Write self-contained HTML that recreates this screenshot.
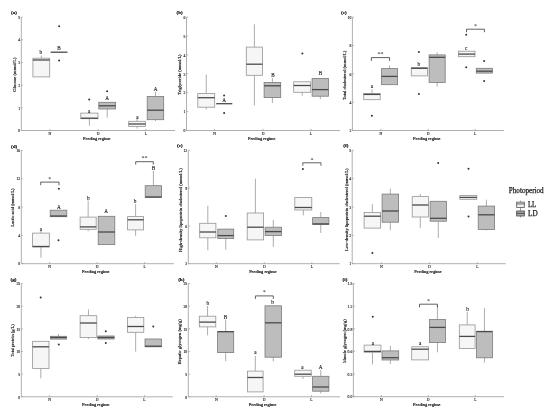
<!DOCTYPE html>
<html><head><meta charset="utf-8"><style>
html,body{margin:0;padding:0;background:#fff;}
body{width:550px;height:413px;overflow:hidden;}
svg{display:block;font-family:"Liberation Serif",serif;filter:grayscale(1);}
.tk{font-size:3.8px;fill:#222;stroke:#222;stroke-width:0.12px;}
.xl{font-size:4.6px;fill:#111;stroke:#111;stroke-width:0.18px;}
.yt{font-size:4.5px;fill:#222;stroke:#222;stroke-width:0.15px;}
.lt{font-size:5.2px;fill:#222;stroke:#222;stroke-width:0.12px;}
.pl{font-size:5px;font-weight:bold;fill:#111;stroke:#111;stroke-width:0.2px;}
.st{font-size:6px;fill:#222;}
</style></head><body>
<svg width="550" height="413" viewBox="0 0 550 413">
<rect width="550" height="413" fill="#fff"/>
<path d="M21.3 17.1V130.5H175" fill="none" stroke="#b0b0b0" stroke-width="1.0"/>
<path d="M21.3 17.1h1.6" stroke="#888" stroke-width="0.6"/>
<text class="tk" x="20.2" y="18.8" text-anchor="end">5</text>
<path d="M21.3 39.78h1.6" stroke="#888" stroke-width="0.6"/>
<text class="tk" x="20.2" y="41.48" text-anchor="end">4</text>
<path d="M21.3 62.46h1.6" stroke="#888" stroke-width="0.6"/>
<text class="tk" x="20.2" y="64.16" text-anchor="end">3</text>
<path d="M21.3 85.14h1.6" stroke="#888" stroke-width="0.6"/>
<text class="tk" x="20.2" y="86.84" text-anchor="end">2</text>
<path d="M21.3 107.82h1.6" stroke="#888" stroke-width="0.6"/>
<text class="tk" x="20.2" y="109.52" text-anchor="end">1</text>
<path d="M21.3 130.5h1.6" stroke="#888" stroke-width="0.6"/>
<text class="tk" x="20.2" y="132.2" text-anchor="end">0</text>
<path d="M49.9 130.5v-1.6" stroke="#888" stroke-width="0.6"/>
<text class="tk" x="49.9" y="134.9" text-anchor="middle">N</text>
<path d="M98.2 130.5v-1.6" stroke="#888" stroke-width="0.6"/>
<text class="tk" x="98.2" y="134.9" text-anchor="middle">D</text>
<path d="M145.9 130.5v-1.6" stroke="#888" stroke-width="0.6"/>
<text class="tk" x="145.9" y="134.9" text-anchor="middle">L</text>
<text class="xl" x="83.05" y="139.8" textLength="27.5" lengthAdjust="spacingAndGlyphs">Feeding regime</text>
<text class="yt" transform="translate(16.3 91.7) rotate(-90)" textLength="34.2" lengthAdjust="spacingAndGlyphs">Glucose (mmol/L)</text>
<text class="pl" x="11.1" y="14">(a)</text>
<path d="M41.3 55.6V58.2" stroke="#8a8a8a" stroke-width="0.7"/>
<rect x="32.9" y="58.2" width="16.8" height="18.7" fill="#f6f6f6" stroke="#959595" stroke-width="0.8"/>
<path d="M32.9 60H49.7" stroke="#4a4a4a" stroke-width="1.3"/>
<path d="M50.6 52.2H67.5" stroke="#4a4a4a" stroke-width="1.3"/>
<path d="M89.4 118.7V125.8" stroke="#8a8a8a" stroke-width="0.7"/>
<rect x="80.8" y="113.1" width="17.2" height="5.6" fill="#f6f6f6" stroke="#959595" stroke-width="0.8"/>
<path d="M80.8 118.2H98" stroke="#4a4a4a" stroke-width="1.3"/>
<path d="M107.2 109V117.7" stroke="#8a8a8a" stroke-width="0.7"/>
<rect x="98.8" y="102.3" width="16.8" height="6.7" fill="#bdbdbd" stroke="#7a7a7a" stroke-width="0.8"/>
<path d="M98.8 105.8H115.6" stroke="#4a4a4a" stroke-width="1.3"/>
<path d="M137.1 119V121.3" stroke="#8a8a8a" stroke-width="0.7"/>
<path d="M137.1 126.4V128.5" stroke="#8a8a8a" stroke-width="0.7"/>
<rect x="128.7" y="121.3" width="16.8" height="5.1" fill="#f6f6f6" stroke="#959595" stroke-width="0.8"/>
<path d="M128.7 124H145.5" stroke="#4a4a4a" stroke-width="1.3"/>
<path d="M155.45 91.7V96.4" stroke="#8a8a8a" stroke-width="0.7"/>
<path d="M155.45 119.7V121" stroke="#8a8a8a" stroke-width="0.7"/>
<rect x="147.2" y="96.4" width="16.5" height="23.3" fill="#bdbdbd" stroke="#7a7a7a" stroke-width="0.8"/>
<path d="M147.2 110.2H163.7" stroke="#4a4a4a" stroke-width="1.3"/>
<circle cx="59.1" cy="26.3" r="1.0" fill="#333"/>
<circle cx="59.1" cy="60.6" r="1.0" fill="#333"/>
<circle cx="89.2" cy="99.5" r="1.0" fill="#333"/>
<circle cx="107.1" cy="91.3" r="1.0" fill="#333"/>
<text class="lt" x="40.7" y="54.3" text-anchor="middle">b</text>
<text class="lt" x="59.1" y="49.9" text-anchor="middle">B</text>
<text class="lt" x="89.2" y="112.8" text-anchor="middle">a</text>
<text class="lt" x="107.1" y="99.8" text-anchor="middle">A</text>
<text class="lt" x="137.3" y="118.5" text-anchor="middle">a</text>
<text class="lt" x="155.5" y="91.4" text-anchor="middle">A</text>
<path d="M186.5 17.1V130.5H340" fill="none" stroke="#b0b0b0" stroke-width="1.0"/>
<path d="M186.5 17.1h1.6" stroke="#888" stroke-width="0.6"/>
<text class="tk" x="185.4" y="18.8" text-anchor="end">6</text>
<path d="M186.5 36h1.6" stroke="#888" stroke-width="0.6"/>
<text class="tk" x="185.4" y="37.7" text-anchor="end">5</text>
<path d="M186.5 54.9h1.6" stroke="#888" stroke-width="0.6"/>
<text class="tk" x="185.4" y="56.6" text-anchor="end">4</text>
<path d="M186.5 73.8h1.6" stroke="#888" stroke-width="0.6"/>
<text class="tk" x="185.4" y="75.5" text-anchor="end">3</text>
<path d="M186.5 92.7h1.6" stroke="#888" stroke-width="0.6"/>
<text class="tk" x="185.4" y="94.4" text-anchor="end">2</text>
<path d="M186.5 111.6h1.6" stroke="#888" stroke-width="0.6"/>
<text class="tk" x="185.4" y="113.3" text-anchor="end">1</text>
<path d="M186.5 130.5h1.6" stroke="#888" stroke-width="0.6"/>
<text class="tk" x="185.4" y="132.2" text-anchor="end">0</text>
<path d="M214.6 130.5v-1.6" stroke="#888" stroke-width="0.6"/>
<text class="tk" x="214.6" y="134.9" text-anchor="middle">N</text>
<path d="M263.1 130.5v-1.6" stroke="#888" stroke-width="0.6"/>
<text class="tk" x="263.1" y="134.9" text-anchor="middle">D</text>
<path d="M311 130.5v-1.6" stroke="#888" stroke-width="0.6"/>
<text class="tk" x="311" y="134.9" text-anchor="middle">L</text>
<text class="xl" x="247.95" y="139.8" textLength="27.5" lengthAdjust="spacingAndGlyphs">Feeding regime</text>
<text class="yt" transform="translate(181.1 94.8) rotate(-90)" textLength="40.4" lengthAdjust="spacingAndGlyphs">Triglyceride (mmol/L)</text>
<text class="pl" x="176.5" y="14.1">(b)</text>
<path d="M206.25 74.5V93.5" stroke="#8a8a8a" stroke-width="0.7"/>
<path d="M206.25 107.2V109.5" stroke="#8a8a8a" stroke-width="0.7"/>
<rect x="197.8" y="93.5" width="16.9" height="13.7" fill="#f6f6f6" stroke="#959595" stroke-width="0.8"/>
<path d="M197.8 97.7H214.7" stroke="#4a4a4a" stroke-width="1.3"/>
<path d="M216.2 103.7H232.3" stroke="#4a4a4a" stroke-width="1.3"/>
<path d="M254.4 24.3V47.1" stroke="#8a8a8a" stroke-width="0.7"/>
<path d="M254.4 75.3V105.4" stroke="#8a8a8a" stroke-width="0.7"/>
<rect x="246.3" y="47.1" width="16.2" height="28.2" fill="#f6f6f6" stroke="#959595" stroke-width="0.8"/>
<path d="M246.3 64.2H262.5" stroke="#4a4a4a" stroke-width="1.3"/>
<path d="M272.4 78.1V82.4" stroke="#8a8a8a" stroke-width="0.7"/>
<path d="M272.4 97.6V103" stroke="#8a8a8a" stroke-width="0.7"/>
<rect x="264.1" y="82.4" width="16.6" height="15.2" fill="#bdbdbd" stroke="#7a7a7a" stroke-width="0.8"/>
<path d="M264.1 85.8H280.7" stroke="#4a4a4a" stroke-width="1.3"/>
<path d="M302.2 92.3V95.8" stroke="#8a8a8a" stroke-width="0.7"/>
<rect x="293.7" y="81.8" width="17" height="10.5" fill="#f6f6f6" stroke="#959595" stroke-width="0.8"/>
<path d="M293.7 85.5H310.7" stroke="#4a4a4a" stroke-width="1.3"/>
<path d="M320.3 96.2V99.2" stroke="#8a8a8a" stroke-width="0.7"/>
<rect x="312.1" y="78.4" width="16.4" height="17.8" fill="#bdbdbd" stroke="#7a7a7a" stroke-width="0.8"/>
<path d="M312.1 89.6H328.5" stroke="#4a4a4a" stroke-width="1.3"/>
<circle cx="224.1" cy="95.4" r="1.0" fill="#333"/>
<circle cx="224.1" cy="113.1" r="1.0" fill="#333"/>
<circle cx="302.4" cy="53.6" r="1.0" fill="#333"/>
<text class="lt" x="224.1" y="102.2" text-anchor="middle">A</text>
<text class="lt" x="273" y="76.8" text-anchor="middle">B</text>
<text class="lt" x="320.4" y="75" text-anchor="middle">B</text>
<path d="M352.4 17.2V130.5H503.9" fill="none" stroke="#b0b0b0" stroke-width="1.0"/>
<path d="M352.4 17.2h1.6" stroke="#888" stroke-width="0.6"/>
<text class="tk" x="351.3" y="18.9" text-anchor="end">10</text>
<path d="M352.4 45.52h1.6" stroke="#888" stroke-width="0.6"/>
<text class="tk" x="351.3" y="47.23" text-anchor="end">8</text>
<path d="M352.4 73.85h1.6" stroke="#888" stroke-width="0.6"/>
<text class="tk" x="351.3" y="75.55" text-anchor="end">6</text>
<path d="M352.4 102.17h1.6" stroke="#888" stroke-width="0.6"/>
<text class="tk" x="351.3" y="103.88" text-anchor="end">4</text>
<path d="M352.4 130.5h1.6" stroke="#888" stroke-width="0.6"/>
<text class="tk" x="351.3" y="132.2" text-anchor="end">2</text>
<path d="M380.9 130.5v-1.6" stroke="#888" stroke-width="0.6"/>
<text class="tk" x="380.9" y="134.9" text-anchor="middle">N</text>
<path d="M428.2 130.5v-1.6" stroke="#888" stroke-width="0.6"/>
<text class="tk" x="428.2" y="134.9" text-anchor="middle">D</text>
<path d="M475.2 130.5v-1.6" stroke="#888" stroke-width="0.6"/>
<text class="tk" x="475.2" y="134.9" text-anchor="middle">L</text>
<text class="xl" x="413.05" y="139.8" textLength="27.5" lengthAdjust="spacingAndGlyphs">Feeding regime</text>
<text class="yt" transform="translate(345.8 100) rotate(-90)" textLength="49.3" lengthAdjust="spacingAndGlyphs">Total cholesterol (mmol/L)</text>
<text class="pl" x="341" y="14.3">(c)</text>
<path d="M371.95 89.2V93.4" stroke="#8a8a8a" stroke-width="0.7"/>
<rect x="363.7" y="93.4" width="16.5" height="6.3" fill="#f6f6f6" stroke="#959595" stroke-width="0.8"/>
<path d="M363.7 94.4H380.2" stroke="#4a4a4a" stroke-width="1.3"/>
<path d="M389.6 65.3V68.6" stroke="#8a8a8a" stroke-width="0.7"/>
<rect x="381.6" y="68.6" width="16" height="16.1" fill="#bdbdbd" stroke="#7a7a7a" stroke-width="0.8"/>
<path d="M381.6 76.4H397.6" stroke="#4a4a4a" stroke-width="1.3"/>
<rect x="411.3" y="67.6" width="16.2" height="8.3" fill="#f6f6f6" stroke="#959595" stroke-width="0.8"/>
<path d="M411.3 68.3H427.5" stroke="#4a4a4a" stroke-width="1.3"/>
<path d="M437.15 52.2V54.9" stroke="#8a8a8a" stroke-width="0.7"/>
<path d="M437.15 82.4V86.6" stroke="#8a8a8a" stroke-width="0.7"/>
<rect x="429.1" y="54.9" width="16.1" height="27.5" fill="#bdbdbd" stroke="#7a7a7a" stroke-width="0.8"/>
<path d="M429.1 57.3H445.2" stroke="#4a4a4a" stroke-width="1.3"/>
<rect x="458.5" y="51.2" width="16.5" height="5.5" fill="#f6f6f6" stroke="#959595" stroke-width="0.8"/>
<path d="M458.5 54.1H475" stroke="#4a4a4a" stroke-width="1.3"/>
<rect x="476.3" y="68.3" width="16.1" height="4.8" fill="#bdbdbd" stroke="#7a7a7a" stroke-width="0.8"/>
<path d="M476.3 71.2H492.4" stroke="#4a4a4a" stroke-width="1.3"/>
<circle cx="371.9" cy="115.7" r="1.0" fill="#333"/>
<circle cx="418.9" cy="51.9" r="1.0" fill="#333"/>
<circle cx="418.9" cy="93.9" r="1.0" fill="#333"/>
<circle cx="466.2" cy="34.8" r="1.0" fill="#333"/>
<circle cx="466.2" cy="67.3" r="1.0" fill="#333"/>
<circle cx="484.1" cy="60.9" r="1.0" fill="#333"/>
<circle cx="484.1" cy="80.9" r="1.0" fill="#333"/>
<text class="lt" x="371.9" y="88.2" text-anchor="middle">a</text>
<text class="lt" x="418.9" y="65.8" text-anchor="middle">b</text>
<text class="lt" x="466.2" y="50" text-anchor="middle">c</text>
<path d="M371.4 60.9V57.6H389.6V60.9" fill="none" stroke="#444" stroke-width="0.85"/>
<text class="st" x="380.5" y="55.8" text-anchor="middle">**</text>
<path d="M466.5 32.2V29.2H484.4V32.2" fill="none" stroke="#444" stroke-width="0.85"/>
<text class="st" x="475.45" y="27.7" text-anchor="middle">*</text>
<path d="M21.3 150.4V263.7H173.9" fill="none" stroke="#b0b0b0" stroke-width="1.0"/>
<path d="M21.3 150.4h1.6" stroke="#888" stroke-width="0.6"/>
<text class="tk" x="20.2" y="152.1" text-anchor="end">16</text>
<path d="M21.3 178.72h1.6" stroke="#888" stroke-width="0.6"/>
<text class="tk" x="20.2" y="180.42" text-anchor="end">12</text>
<path d="M21.3 207.05h1.6" stroke="#888" stroke-width="0.6"/>
<text class="tk" x="20.2" y="208.75" text-anchor="end">8</text>
<path d="M21.3 235.38h1.6" stroke="#888" stroke-width="0.6"/>
<text class="tk" x="20.2" y="237.07" text-anchor="end">4</text>
<path d="M21.3 263.7h1.6" stroke="#888" stroke-width="0.6"/>
<text class="tk" x="20.2" y="265.4" text-anchor="end">0</text>
<path d="M49.6 263.7v-1.6" stroke="#888" stroke-width="0.6"/>
<text class="tk" x="49.6" y="268.1" text-anchor="middle">N</text>
<path d="M97.2 263.7v-1.6" stroke="#888" stroke-width="0.6"/>
<text class="tk" x="97.2" y="268.1" text-anchor="middle">D</text>
<path d="M144.6 263.7v-1.6" stroke="#888" stroke-width="0.6"/>
<text class="tk" x="144.6" y="268.1" text-anchor="middle">L</text>
<text class="xl" x="82.05" y="273" textLength="27.5" lengthAdjust="spacingAndGlyphs">Feeding regime</text>
<text class="yt" transform="translate(14.2 226.7) rotate(-90)" textLength="38.2" lengthAdjust="spacingAndGlyphs">Lactic acid (mmol/L)</text>
<text class="pl" x="11.1" y="147.7">(d)</text>
<path d="M40.95 231V233.1" stroke="#8a8a8a" stroke-width="0.7"/>
<path d="M40.95 246.9V257.8" stroke="#8a8a8a" stroke-width="0.7"/>
<rect x="32.6" y="233.1" width="16.7" height="13.8" fill="#f6f6f6" stroke="#959595" stroke-width="0.8"/>
<path d="M32.6 246.5H49.3" stroke="#4a4a4a" stroke-width="1.3"/>
<rect x="50.2" y="210.2" width="16.6" height="6.5" fill="#bdbdbd" stroke="#7a7a7a" stroke-width="0.8"/>
<path d="M50.2 216H66.8" stroke="#4a4a4a" stroke-width="1.3"/>
<path d="M88.15 200.5V217.1" stroke="#8a8a8a" stroke-width="0.7"/>
<path d="M88.15 229.3V231.2" stroke="#8a8a8a" stroke-width="0.7"/>
<rect x="80.1" y="217.1" width="16.1" height="12.2" fill="#f6f6f6" stroke="#959595" stroke-width="0.8"/>
<path d="M80.1 226.9H96.2" stroke="#4a4a4a" stroke-width="1.3"/>
<rect x="98.2" y="216.3" width="16.6" height="28.3" fill="#bdbdbd" stroke="#7a7a7a" stroke-width="0.8"/>
<path d="M98.2 232H114.8" stroke="#4a4a4a" stroke-width="1.3"/>
<path d="M135.6 204.1V216.6" stroke="#8a8a8a" stroke-width="0.7"/>
<path d="M135.6 229.9V235.8" stroke="#8a8a8a" stroke-width="0.7"/>
<rect x="127.6" y="216.6" width="16" height="13.3" fill="#f6f6f6" stroke="#959595" stroke-width="0.8"/>
<path d="M127.6 219.8H143.6" stroke="#4a4a4a" stroke-width="1.3"/>
<path d="M153.4 170.6V185.7" stroke="#8a8a8a" stroke-width="0.7"/>
<rect x="145.2" y="185.7" width="16.4" height="11.6" fill="#bdbdbd" stroke="#7a7a7a" stroke-width="0.8"/>
<path d="M145.2 197H161.6" stroke="#4a4a4a" stroke-width="1.3"/>
<circle cx="58.9" cy="188.8" r="1.0" fill="#333"/>
<circle cx="58.5" cy="240.3" r="1.0" fill="#333"/>
<text class="lt" x="41" y="230.5" text-anchor="middle">a</text>
<text class="lt" x="58.9" y="208.5" text-anchor="middle">A</text>
<text class="lt" x="88.2" y="200.2" text-anchor="middle">b</text>
<text class="lt" x="106" y="213.3" text-anchor="middle">A</text>
<text class="lt" x="135" y="203.1" text-anchor="middle">b</text>
<text class="lt" x="153.4" y="169.8" text-anchor="middle">B</text>
<path d="M40.7 185.2V182.1H59V185.2" fill="none" stroke="#444" stroke-width="0.85"/>
<text class="st" x="49.85" y="181.2" text-anchor="middle">*</text>
<path d="M135.7 164.6V161.7H153.3V164.6" fill="none" stroke="#444" stroke-width="0.85"/>
<text class="st" x="144.5" y="160.3" text-anchor="middle">**</text>
<path d="M188.3 150.3V263.7H339.7" fill="none" stroke="#b0b0b0" stroke-width="1.0"/>
<path d="M188.3 150.3h1.6" stroke="#888" stroke-width="0.6"/>
<text class="tk" x="187.2" y="152" text-anchor="end">12</text>
<path d="M188.3 188.1h1.6" stroke="#888" stroke-width="0.6"/>
<text class="tk" x="187.2" y="189.8" text-anchor="end">9</text>
<path d="M188.3 225.9h1.6" stroke="#888" stroke-width="0.6"/>
<text class="tk" x="187.2" y="227.6" text-anchor="end">6</text>
<path d="M188.3 263.7h1.6" stroke="#888" stroke-width="0.6"/>
<text class="tk" x="187.2" y="265.4" text-anchor="end">3</text>
<path d="M216.3 263.7v-1.6" stroke="#888" stroke-width="0.6"/>
<text class="tk" x="216.3" y="268.1" text-anchor="middle">N</text>
<path d="M264.3 263.7v-1.6" stroke="#888" stroke-width="0.6"/>
<text class="tk" x="264.3" y="268.1" text-anchor="middle">D</text>
<path d="M311.8 263.7v-1.6" stroke="#888" stroke-width="0.6"/>
<text class="tk" x="311.8" y="268.1" text-anchor="middle">L</text>
<text class="xl" x="249.15" y="273" textLength="27.5" lengthAdjust="spacingAndGlyphs">Feeding regime</text>
<text class="yt" transform="translate(181.7 252) rotate(-90)" textLength="83.7" lengthAdjust="spacingAndGlyphs">High-density lipoprotein cholesterol (mmol/L)</text>
<text class="pl" x="177.1" y="147.1">(e)</text>
<path d="M207.8 205.7V223.3" stroke="#8a8a8a" stroke-width="0.7"/>
<path d="M207.8 237.8V250.3" stroke="#8a8a8a" stroke-width="0.7"/>
<rect x="199.7" y="223.3" width="16.2" height="14.5" fill="#f6f6f6" stroke="#959595" stroke-width="0.8"/>
<path d="M199.7 232H215.9" stroke="#4a4a4a" stroke-width="1.3"/>
<path d="M225.75 238.6V249.7" stroke="#8a8a8a" stroke-width="0.7"/>
<rect x="217.8" y="229.1" width="15.9" height="9.5" fill="#bdbdbd" stroke="#7a7a7a" stroke-width="0.8"/>
<path d="M217.8 235.6H233.7" stroke="#4a4a4a" stroke-width="1.3"/>
<path d="M255.4 178.7V213" stroke="#8a8a8a" stroke-width="0.7"/>
<rect x="247.2" y="213" width="16.4" height="26.9" fill="#f6f6f6" stroke="#959595" stroke-width="0.8"/>
<path d="M247.2 227.2H263.6" stroke="#4a4a4a" stroke-width="1.3"/>
<path d="M273.3 219.8V227.2" stroke="#8a8a8a" stroke-width="0.7"/>
<path d="M273.3 235.5V246.9" stroke="#8a8a8a" stroke-width="0.7"/>
<rect x="265.1" y="227.2" width="16.4" height="8.3" fill="#bdbdbd" stroke="#7a7a7a" stroke-width="0.8"/>
<path d="M265.1 231.6H281.5" stroke="#4a4a4a" stroke-width="1.3"/>
<path d="M303.3 210V215.4" stroke="#8a8a8a" stroke-width="0.7"/>
<rect x="294.8" y="197.5" width="17" height="12.5" fill="#f6f6f6" stroke="#959595" stroke-width="0.8"/>
<path d="M294.8 207.5H311.8" stroke="#4a4a4a" stroke-width="1.3"/>
<path d="M320.75 212V217.6" stroke="#8a8a8a" stroke-width="0.7"/>
<path d="M320.75 224.5V232.9" stroke="#8a8a8a" stroke-width="0.7"/>
<rect x="312.6" y="217.6" width="16.3" height="6.9" fill="#bdbdbd" stroke="#7a7a7a" stroke-width="0.8"/>
<path d="M312.6 223.9H328.9" stroke="#4a4a4a" stroke-width="1.3"/>
<circle cx="225.8" cy="215.9" r="1.0" fill="#333"/>
<circle cx="302.9" cy="169.1" r="1.0" fill="#333"/>
<path d="M302.8 165.7V162.8H321V165.7" fill="none" stroke="#444" stroke-width="0.85"/>
<text class="st" x="311.9" y="161.5" text-anchor="middle">*</text>
<path d="M352.2 150.3V263.7H505.8" fill="none" stroke="#b0b0b0" stroke-width="1.0"/>
<path d="M352.2 150.3h1.6" stroke="#888" stroke-width="0.6"/>
<text class="tk" x="351.1" y="152" text-anchor="end">5</text>
<path d="M352.2 178.65h1.6" stroke="#888" stroke-width="0.6"/>
<text class="tk" x="351.1" y="180.35" text-anchor="end">4</text>
<path d="M352.2 207h1.6" stroke="#888" stroke-width="0.6"/>
<text class="tk" x="351.1" y="208.7" text-anchor="end">3</text>
<path d="M352.2 235.35h1.6" stroke="#888" stroke-width="0.6"/>
<text class="tk" x="351.1" y="237.05" text-anchor="end">2</text>
<path d="M352.2 263.7h1.6" stroke="#888" stroke-width="0.6"/>
<text class="tk" x="351.1" y="265.4" text-anchor="end">1</text>
<path d="M381.4 263.7v-1.6" stroke="#888" stroke-width="0.6"/>
<text class="tk" x="381.4" y="268.1" text-anchor="middle">N</text>
<path d="M429.4 263.7v-1.6" stroke="#888" stroke-width="0.6"/>
<text class="tk" x="429.4" y="268.1" text-anchor="middle">D</text>
<path d="M477.3 263.7v-1.6" stroke="#888" stroke-width="0.6"/>
<text class="tk" x="477.3" y="268.1" text-anchor="middle">L</text>
<text class="xl" x="414.25" y="273" textLength="27.5" lengthAdjust="spacingAndGlyphs">Feeding regime</text>
<text class="yt" transform="translate(347.9 250.9) rotate(-90)" textLength="82.3" lengthAdjust="spacingAndGlyphs">Low-density lipoprotein cholesterol (mmol/L)</text>
<text class="pl" x="343.3" y="147.1">(f)</text>
<path d="M372.35 204.2V212.4" stroke="#8a8a8a" stroke-width="0.7"/>
<rect x="364.1" y="212.4" width="16.5" height="15.7" fill="#f6f6f6" stroke="#959595" stroke-width="0.8"/>
<path d="M364.1 216.2H380.6" stroke="#4a4a4a" stroke-width="1.3"/>
<path d="M390.35 188.7V194.1" stroke="#8a8a8a" stroke-width="0.7"/>
<path d="M390.35 222.2V230.4" stroke="#8a8a8a" stroke-width="0.7"/>
<rect x="382.1" y="194.1" width="16.5" height="28.1" fill="#bdbdbd" stroke="#7a7a7a" stroke-width="0.8"/>
<path d="M382.1 211H398.6" stroke="#4a4a4a" stroke-width="1.3"/>
<path d="M420.3 193.9V196.6" stroke="#8a8a8a" stroke-width="0.7"/>
<path d="M420.3 217V228.1" stroke="#8a8a8a" stroke-width="0.7"/>
<rect x="412.2" y="196.6" width="16.2" height="20.4" fill="#f6f6f6" stroke="#959595" stroke-width="0.8"/>
<path d="M412.2 205H428.4" stroke="#4a4a4a" stroke-width="1.3"/>
<path d="M438.3 221.2V238" stroke="#8a8a8a" stroke-width="0.7"/>
<rect x="430.1" y="201.3" width="16.4" height="19.9" fill="#bdbdbd" stroke="#7a7a7a" stroke-width="0.8"/>
<path d="M430.1 218.3H446.5" stroke="#4a4a4a" stroke-width="1.3"/>
<rect x="459.8" y="195.5" width="17" height="3.8" fill="#f6f6f6" stroke="#959595" stroke-width="0.8"/>
<path d="M459.8 197.4H476.8" stroke="#4a4a4a" stroke-width="1.3"/>
<path d="M486.4 199.7V206.1" stroke="#8a8a8a" stroke-width="0.7"/>
<path d="M486.4 229.4V230.5" stroke="#8a8a8a" stroke-width="0.7"/>
<rect x="478.2" y="206.1" width="16.4" height="23.3" fill="#bdbdbd" stroke="#7a7a7a" stroke-width="0.8"/>
<path d="M478.2 214.8H494.6" stroke="#4a4a4a" stroke-width="1.3"/>
<circle cx="372.4" cy="253.1" r="1.0" fill="#333"/>
<circle cx="438.2" cy="163.1" r="1.0" fill="#333"/>
<circle cx="468.5" cy="168.7" r="1.0" fill="#333"/>
<circle cx="468.5" cy="216.6" r="1.0" fill="#333"/>
<path d="M21.3 283.6V396.8H172.8" fill="none" stroke="#b0b0b0" stroke-width="1.0"/>
<path d="M21.3 283.6h1.6" stroke="#888" stroke-width="0.6"/>
<text class="tk" x="20.2" y="285.3" text-anchor="end">25</text>
<path d="M21.3 306.24h1.6" stroke="#888" stroke-width="0.6"/>
<text class="tk" x="20.2" y="307.94" text-anchor="end">20</text>
<path d="M21.3 328.88h1.6" stroke="#888" stroke-width="0.6"/>
<text class="tk" x="20.2" y="330.58" text-anchor="end">15</text>
<path d="M21.3 351.52h1.6" stroke="#888" stroke-width="0.6"/>
<text class="tk" x="20.2" y="353.22" text-anchor="end">10</text>
<path d="M21.3 374.16h1.6" stroke="#888" stroke-width="0.6"/>
<text class="tk" x="20.2" y="375.86" text-anchor="end">5</text>
<path d="M21.3 396.8h1.6" stroke="#888" stroke-width="0.6"/>
<text class="tk" x="20.2" y="398.5" text-anchor="end">0</text>
<path d="M49.6 396.8v-1.6" stroke="#888" stroke-width="0.6"/>
<text class="tk" x="49.6" y="401.2" text-anchor="middle">N</text>
<path d="M97.2 396.8v-1.6" stroke="#888" stroke-width="0.6"/>
<text class="tk" x="97.2" y="401.2" text-anchor="middle">D</text>
<path d="M144.5 396.8v-1.6" stroke="#888" stroke-width="0.6"/>
<text class="tk" x="144.5" y="401.2" text-anchor="middle">L</text>
<text class="xl" x="82.05" y="406.1" textLength="27.5" lengthAdjust="spacingAndGlyphs">Feeding regime</text>
<text class="yt" transform="translate(14.4 356.9) rotate(-90)" textLength="32.6" lengthAdjust="spacingAndGlyphs">Total protein (g/L)</text>
<text class="pl" x="10.5" y="280.8">(g)</text>
<path d="M40.8 368.6V378.4" stroke="#8a8a8a" stroke-width="0.7"/>
<rect x="32.6" y="341.3" width="16.4" height="27.3" fill="#f6f6f6" stroke="#959595" stroke-width="0.8"/>
<path d="M32.6 346.8H49" stroke="#4a4a4a" stroke-width="1.3"/>
<path d="M58.5 334V336.3" stroke="#8a8a8a" stroke-width="0.7"/>
<rect x="50.5" y="336.3" width="16" height="2.8" fill="#bdbdbd" stroke="#7a7a7a" stroke-width="0.8"/>
<path d="M50.5 337.5H66.5" stroke="#4a4a4a" stroke-width="1.3"/>
<path d="M88.45 309.4V315.7" stroke="#8a8a8a" stroke-width="0.7"/>
<path d="M88.45 337.5V339" stroke="#8a8a8a" stroke-width="0.7"/>
<rect x="80.1" y="315.7" width="16.7" height="21.8" fill="#f6f6f6" stroke="#959595" stroke-width="0.8"/>
<path d="M80.1 323H96.8" stroke="#4a4a4a" stroke-width="1.3"/>
<rect x="97.8" y="336" width="16.4" height="3" fill="#bdbdbd" stroke="#7a7a7a" stroke-width="0.8"/>
<path d="M97.8 337.5H114.2" stroke="#4a4a4a" stroke-width="1.3"/>
<path d="M135.65 315.7V317.4" stroke="#8a8a8a" stroke-width="0.7"/>
<path d="M135.65 332.3V351.6" stroke="#8a8a8a" stroke-width="0.7"/>
<rect x="127.5" y="317.4" width="16.3" height="14.9" fill="#f6f6f6" stroke="#959595" stroke-width="0.8"/>
<path d="M127.5 326.5H143.8" stroke="#4a4a4a" stroke-width="1.3"/>
<rect x="145" y="339" width="16.5" height="7.8" fill="#bdbdbd" stroke="#7a7a7a" stroke-width="0.8"/>
<path d="M145 346.2H161.5" stroke="#4a4a4a" stroke-width="1.3"/>
<circle cx="40.7" cy="297.6" r="1.0" fill="#333"/>
<circle cx="58.8" cy="344.6" r="1.0" fill="#333"/>
<circle cx="105.8" cy="331.3" r="1.0" fill="#333"/>
<circle cx="105.8" cy="342.9" r="1.0" fill="#333"/>
<circle cx="153.3" cy="326.5" r="1.0" fill="#333"/>
<path d="M188.3 283.5V396.8H340" fill="none" stroke="#b0b0b0" stroke-width="1.0"/>
<path d="M188.3 283.5h1.6" stroke="#888" stroke-width="0.6"/>
<text class="tk" x="187.2" y="285.2" text-anchor="end">25</text>
<path d="M188.3 306.16h1.6" stroke="#888" stroke-width="0.6"/>
<text class="tk" x="187.2" y="307.86" text-anchor="end">20</text>
<path d="M188.3 328.82h1.6" stroke="#888" stroke-width="0.6"/>
<text class="tk" x="187.2" y="330.52" text-anchor="end">15</text>
<path d="M188.3 351.48h1.6" stroke="#888" stroke-width="0.6"/>
<text class="tk" x="187.2" y="353.18" text-anchor="end">10</text>
<path d="M188.3 374.14h1.6" stroke="#888" stroke-width="0.6"/>
<text class="tk" x="187.2" y="375.84" text-anchor="end">5</text>
<path d="M188.3 396.8h1.6" stroke="#888" stroke-width="0.6"/>
<text class="tk" x="187.2" y="398.5" text-anchor="end">0</text>
<path d="M216.3 396.8v-1.6" stroke="#888" stroke-width="0.6"/>
<text class="tk" x="216.3" y="401.2" text-anchor="middle">N</text>
<path d="M264 396.8v-1.6" stroke="#888" stroke-width="0.6"/>
<text class="tk" x="264" y="401.2" text-anchor="middle">D</text>
<path d="M311.5 396.8v-1.6" stroke="#888" stroke-width="0.6"/>
<text class="tk" x="311.5" y="401.2" text-anchor="middle">L</text>
<text class="xl" x="248.85" y="406.1" textLength="27.5" lengthAdjust="spacingAndGlyphs">Feeding regime</text>
<text class="yt" transform="translate(181.2 364.5) rotate(-90)" textLength="45.2" lengthAdjust="spacingAndGlyphs">Hepatic glycogen (mg/g)</text>
<text class="pl" x="178.2" y="281.2">(h)</text>
<path d="M207.55 306V316.2" stroke="#8a8a8a" stroke-width="0.7"/>
<path d="M207.55 326.9V335.3" stroke="#8a8a8a" stroke-width="0.7"/>
<rect x="199.3" y="316.2" width="16.5" height="10.7" fill="#f6f6f6" stroke="#959595" stroke-width="0.8"/>
<path d="M199.3 322.1H215.8" stroke="#4a4a4a" stroke-width="1.3"/>
<path d="M225.65 319.6V331.4" stroke="#8a8a8a" stroke-width="0.7"/>
<path d="M225.65 352.6V361.1" stroke="#8a8a8a" stroke-width="0.7"/>
<rect x="217.6" y="331.4" width="16.1" height="21.2" fill="#bdbdbd" stroke="#7a7a7a" stroke-width="0.8"/>
<path d="M217.6 331.7H233.7" stroke="#4a4a4a" stroke-width="1.3"/>
<path d="M255.3 355.8V371.1" stroke="#8a8a8a" stroke-width="0.7"/>
<rect x="247.5" y="371.1" width="15.6" height="20.8" fill="#f6f6f6" stroke="#959595" stroke-width="0.8"/>
<path d="M247.5 377.5H263.1" stroke="#4a4a4a" stroke-width="1.3"/>
<path d="M273.25 357.2V361.4" stroke="#8a8a8a" stroke-width="0.7"/>
<rect x="265" y="305.8" width="16.5" height="51.4" fill="#bdbdbd" stroke="#7a7a7a" stroke-width="0.8"/>
<path d="M265 322.8H281.5" stroke="#4a4a4a" stroke-width="1.3"/>
<path d="M302.95 376.3V379" stroke="#8a8a8a" stroke-width="0.7"/>
<rect x="294.7" y="370.2" width="16.5" height="6.1" fill="#f6f6f6" stroke="#959595" stroke-width="0.8"/>
<path d="M294.7 374.2H311.2" stroke="#4a4a4a" stroke-width="1.3"/>
<path d="M320.75 369.8V376.3" stroke="#8a8a8a" stroke-width="0.7"/>
<path d="M320.75 391.2V393.5" stroke="#8a8a8a" stroke-width="0.7"/>
<rect x="312.6" y="376.3" width="16.3" height="14.9" fill="#bdbdbd" stroke="#7a7a7a" stroke-width="0.8"/>
<path d="M312.6 387H328.9" stroke="#4a4a4a" stroke-width="1.3"/>
<text class="lt" x="207.7" y="305" text-anchor="middle">b</text>
<text class="lt" x="225.6" y="318.6" text-anchor="middle">B</text>
<text class="lt" x="255.3" y="353.8" text-anchor="middle">a</text>
<text class="lt" x="272.6" y="304" text-anchor="middle">b</text>
<text class="lt" x="302.4" y="368.7" text-anchor="middle">a</text>
<text class="lt" x="320.6" y="369" text-anchor="middle">A</text>
<path d="M255.4 298.9V295.9H273.3V298.9" fill="none" stroke="#444" stroke-width="0.85"/>
<text class="st" x="264.35" y="294.3" text-anchor="middle">*</text>
<path d="M353.4 283.6V396.7H503.9" fill="none" stroke="#b0b0b0" stroke-width="1.0"/>
<path d="M353.4 283.6h1.6" stroke="#888" stroke-width="0.6"/>
<text class="tk" x="352.3" y="285.3" text-anchor="end">1.5</text>
<path d="M353.4 306.22h1.6" stroke="#888" stroke-width="0.6"/>
<text class="tk" x="352.3" y="307.92" text-anchor="end">1.2</text>
<path d="M353.4 328.84h1.6" stroke="#888" stroke-width="0.6"/>
<text class="tk" x="352.3" y="330.54" text-anchor="end">0.9</text>
<path d="M353.4 351.46h1.6" stroke="#888" stroke-width="0.6"/>
<text class="tk" x="352.3" y="353.16" text-anchor="end">0.6</text>
<path d="M353.4 374.08h1.6" stroke="#888" stroke-width="0.6"/>
<text class="tk" x="352.3" y="375.78" text-anchor="end">0.3</text>
<path d="M353.4 396.7h1.6" stroke="#888" stroke-width="0.6"/>
<text class="tk" x="352.3" y="398.4" text-anchor="end">0.0</text>
<path d="M381.4 396.7v-1.6" stroke="#888" stroke-width="0.6"/>
<text class="tk" x="381.4" y="401.1" text-anchor="middle">N</text>
<path d="M428.2 396.7v-1.6" stroke="#888" stroke-width="0.6"/>
<text class="tk" x="428.2" y="401.1" text-anchor="middle">D</text>
<path d="M475.4 396.7v-1.6" stroke="#888" stroke-width="0.6"/>
<text class="tk" x="475.4" y="401.1" text-anchor="middle">L</text>
<text class="xl" x="413.05" y="406" textLength="27.5" lengthAdjust="spacingAndGlyphs">Feeding regime</text>
<text class="yt" transform="translate(345.5 363.1) rotate(-90)" textLength="43.8" lengthAdjust="spacingAndGlyphs">Muscle glycogen (mg/g)</text>
<text class="pl" x="342.6" y="281.4">(i)</text>
<path d="M372.5 352.2V364.4" stroke="#8a8a8a" stroke-width="0.7"/>
<rect x="364.1" y="345.1" width="16.8" height="7.1" fill="#f6f6f6" stroke="#959595" stroke-width="0.8"/>
<path d="M364.1 351.4H380.9" stroke="#4a4a4a" stroke-width="1.3"/>
<path d="M390.35 345.9V350.9" stroke="#8a8a8a" stroke-width="0.7"/>
<path d="M390.35 360V364" stroke="#8a8a8a" stroke-width="0.7"/>
<rect x="382" y="350.9" width="16.7" height="9.1" fill="#bdbdbd" stroke="#7a7a7a" stroke-width="0.8"/>
<path d="M382 357.7H398.7" stroke="#4a4a4a" stroke-width="1.3"/>
<rect x="411.7" y="346.8" width="16.9" height="13.1" fill="#f6f6f6" stroke="#959595" stroke-width="0.8"/>
<path d="M411.7 349.2H428.6" stroke="#4a4a4a" stroke-width="1.3"/>
<path d="M437.45 305V319.5" stroke="#8a8a8a" stroke-width="0.7"/>
<path d="M437.45 342.6V352.3" stroke="#8a8a8a" stroke-width="0.7"/>
<rect x="429.5" y="319.5" width="15.9" height="23.1" fill="#bdbdbd" stroke="#7a7a7a" stroke-width="0.8"/>
<path d="M429.5 327.4H445.4" stroke="#4a4a4a" stroke-width="1.3"/>
<path d="M467.2 311.8V324.9" stroke="#8a8a8a" stroke-width="0.7"/>
<rect x="459.3" y="324.9" width="15.8" height="23.6" fill="#f6f6f6" stroke="#959595" stroke-width="0.8"/>
<path d="M459.3 336.4H475.1" stroke="#4a4a4a" stroke-width="1.3"/>
<path d="M484.45 308.2V331.3" stroke="#8a8a8a" stroke-width="0.7"/>
<path d="M484.45 357.8V362.7" stroke="#8a8a8a" stroke-width="0.7"/>
<rect x="476.5" y="331.3" width="15.9" height="26.5" fill="#bdbdbd" stroke="#7a7a7a" stroke-width="0.8"/>
<path d="M476.5 331.6H492.4" stroke="#4a4a4a" stroke-width="1.3"/>
<circle cx="372.8" cy="316.8" r="1.0" fill="#333"/>
<text class="lt" x="372.8" y="344.8" text-anchor="middle">a</text>
<text class="lt" x="420.1" y="345.3" text-anchor="middle">a</text>
<text class="lt" x="467.5" y="310.8" text-anchor="middle">b</text>
<path d="M419.5 307.3V304.2H437.4V307.3" fill="none" stroke="#444" stroke-width="0.85"/>
<text class="st" x="428.45" y="302.5" text-anchor="middle">*</text>
<text x="508.8" y="193.4" font-size="7.4" fill="#1a1a1a" stroke="#1a1a1a" stroke-width="0.25" textLength="34.9" lengthAdjust="spacingAndGlyphs">Photoperiod</text>
<path d="M520.5 200.6V217.6" stroke="#666" stroke-width="0.6"/>
<rect x="516.7" y="202.1" width="7.6" height="5.3" fill="#eee" stroke="#555" stroke-width="0.8"/>
<path d="M516.7 203.9h7.6" stroke="#444" stroke-width="0.8"/>
<rect x="516.7" y="211" width="7.6" height="5" fill="#aaa" stroke="#444" stroke-width="0.8"/>
<path d="M516.7 213.4h7.6" stroke="#333" stroke-width="0.8"/>
<text x="528.0" y="206.8" font-size="7.4" fill="#1a1a1a" stroke="#1a1a1a" stroke-width="0.25" textLength="8.2" lengthAdjust="spacingAndGlyphs">LL</text>
<text x="528.0" y="215.6" font-size="7.4" fill="#1a1a1a" stroke="#1a1a1a" stroke-width="0.25" textLength="9.6" lengthAdjust="spacingAndGlyphs">LD</text>
</svg>
</body></html>
